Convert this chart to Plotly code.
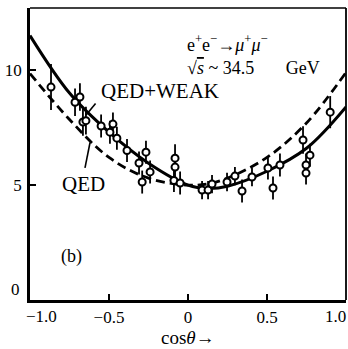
import plotly.graph_objects as go

# Data points (cos theta, value, error)
pt_c = [-0.867, -0.715, -0.684, -0.665, -0.646, -0.55, -0.475, -0.494, -0.45, -0.386,
        -0.266, -0.31, -0.24, -0.29, -0.082, -0.082, -0.089, -0.05, 0.089, 0.127,
        0.152, 0.247, 0.297, 0.342, 0.405, 0.506, 0.538, 0.582, 0.728, 0.772,
        0.747, 0.747, 0.9]
pt_v = [9.26, 8.6, 8.83, 7.74, 7.8, 7.57, 7.65, 7.3, 7.04, 6.5,
        6.43, 5.96, 5.57, 5.13, 6.17, 5.78, 5.2, 5.09, 4.78, 4.78,
        5.04, 5.13, 5.39, 4.74, 5.35, 5.74, 4.87, 5.87, 6.96, 6.3,
        5.87, 5.52, 8.17]
pt_e = [1.0, 0.6, 0.6, 0.6, 0.6, 0.5, 0.5, 0.5, 0.5, 0.5,
        0.5, 0.5, 0.5, 0.5, 0.6, 0.5, 0.5, 0.5, 0.4, 0.4,
        0.4, 0.4, 0.4, 0.5, 0.4, 0.5, 0.5, 0.5, 0.6, 0.5,
        0.5, 0.5, 0.7]

# Curves
curve_c = [-1.0, -0.75, -0.5, -0.25, 0.0, 0.125, 0.25, 0.5, 0.75, 1.0]
qed_weak = [11.5, 9.0, 7.3, 5.95, 5.0, 4.85, 4.95, 5.6, 6.6, 8.4]
qed = [9.85, 7.85, 6.2, 5.3, 5.0, 5.05, 5.3, 6.2, 7.7, 9.9]

xticks = [-0.5, 0, 0.5]
xticklabels = ["−0.5", "0", "0.5"]
yticks = [5, 10]
yticklabels = ["5", "10"]

SERIF = "Liberation Serif"
NB = "\u00a0"

fig = go.Figure()
fig.add_trace(go.Scatter(x=curve_c, y=qed, mode="lines", line_shape="spline",
                         line=dict(color="black", width=2.8, dash="9px,5px"),
                         hoverinfo="skip"))
fig.add_trace(go.Scatter(x=curve_c, y=qed_weak, mode="lines", line_shape="spline",
                         line=dict(color="black", width=3), hoverinfo="skip"))
fig.add_trace(go.Scatter(x=pt_c, y=pt_v, mode="markers",
                         marker=dict(symbol="circle", size=7, color="white",
                                     line=dict(color="black", width=2)),
                         error_y=dict(type="data", array=pt_e, color="black",
                                      thickness=1.8, width=0)))

fig.update_layout(
    width=348, height=349,
    margin=dict(l=30, r=2, t=8, b=49),
    paper_bgcolor="white", plot_bgcolor="white",
    showlegend=False,
    font=dict(family=SERIF, color="black", size=15),
)
fig.update_xaxes(range=[-1.0, 1.0], tickvals=xticks, ticktext=xticklabels,
                 ticks="inside", ticklen=6, tickwidth=2, tickcolor="black",
                 showline=True, linecolor="black", linewidth=2.8, mirror=False,
                 showgrid=False, zeroline=False, ticklabelstandoff=0,
                 tickfont=dict(family=SERIF, size=17))
fig.update_yaxes(range=[0, 12.7], tickvals=yticks, ticktext=yticklabels,
                 ticks="inside", ticklen=6, tickwidth=2, tickcolor="black",
                 showline=True, linecolor="black", linewidth=2.8, mirror=False,
                 showgrid=False, zeroline=False, ticklabelstandoff=2,
                 tickfont=dict(family=SERIF, size=17))

ann = [
    dict(x=-0.925, y=0, text="−1.0", yshift=-16, size=17),
    dict(x=0.935, y=0, text="1.0", yshift=-16, size=17),
    dict(x=-1.0, y=0.45, text="0", xshift=-15, size=17),
    dict(x=-0.02, y=11.15, xanchor="left",
         text="e<sup>+</sup>e<sup>−</sup>→<i>μ</i><sup>+</sup><i>μ</i><sup>−</sup>", size=18),
    dict(x=-0.02, y=10.1, xanchor="left",
         text="√<span style='text-decoration:overline'><i>s</i></span>" + NB + "~" + NB
              + "34.5" + NB * 7 + "GeV", size=18),
    dict(x=-0.18, y=9.1, text="QED+WEAK", size=21),
    dict(x=-0.66, y=5.05, text="QED", size=21),
    dict(x=-0.735, y=1.9, text="(b)", size=18),
    dict(x=0.0, y=0, text="cos<i>θ</i>→", yshift=-37, size=19),
]
for a in ann:
    size = a.pop("size", 16)
    fig.add_annotation(**a, xref="x", yref="y", showarrow=False,
                       font=dict(family=SERIF, size=size, color="black"))

# top and right frame lines (thinner than the axes)
fig.add_shape(type="line", xref="paper", yref="paper", x0=0, y0=1, x1=1, y1=1,
              line=dict(color="black", width=1.6))
fig.add_shape(type="line", xref="paper", yref="paper", x0=1, y0=0, x1=1, y1=1,
              line=dict(color="black", width=1.8))

# pointer lines from labels to curves
fig.add_shape(type="line", x0=-0.652, y0=5.75, x1=-0.62, y1=6.85,
              line=dict(color="black", width=1.6))
fig.add_shape(type="line", x0=-0.585, y0=8.55, x1=-0.645, y1=8.05,
              line=dict(color="black", width=1.6))

fig.write_html("out.html")
